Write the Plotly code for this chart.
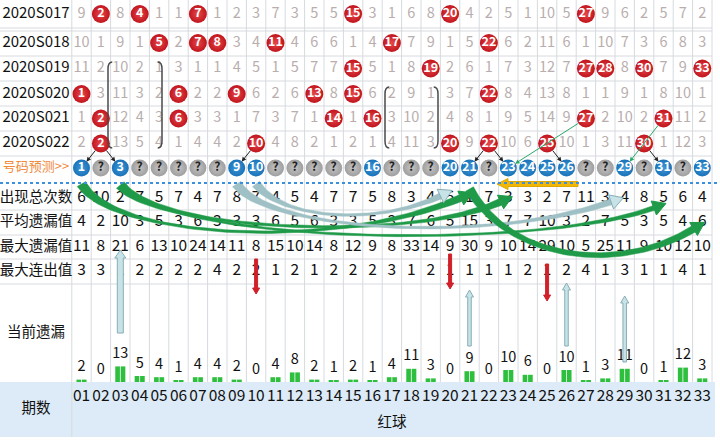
import numpy as np
import plotly.graph_objects as go

# ---------------- data ----------------
periods = ["2020S017", "2020S018", "2020S019", "2020S020", "2020S021", "2020S022"]

# omission values per period (0 where the ball was drawn)
omit_S017 = [9, 0, 8, 0, 1, 1, 0, 1, 2, 3, 7, 3, 5, 5, 0, 3, 1, 6, 8, 0, 4, 2, 5, 1, 10, 5, 0, 9, 6, 2, 5, 7, 2]
omit_S018 = [10, 1, 9, 1, 0, 2, 0, 0, 3, 4, 0, 4, 6, 6, 1, 4, 0, 7, 9, 1, 5, 0, 6, 2, 11, 6, 1, 10, 7, 3, 6, 8, 3]
omit_S019 = [11, 2, 10, 2, 1, 3, 1, 1, 4, 5, 1, 5, 7, 7, 0, 5, 1, 8, 0, 2, 6, 1, 7, 3, 12, 7, 0, 0, 8, 0, 7, 9, 0]
omit_S020 = [0, 3, 11, 3, 2, 0, 2, 2, 0, 6, 2, 6, 0, 8, 0, 6, 2, 9, 1, 3, 7, 0, 8, 4, 13, 8, 1, 1, 9, 1, 8, 10, 1]
omit_S021 = [1, 0, 12, 4, 3, 0, 3, 3, 1, 7, 3, 7, 1, 0, 1, 0, 3, 10, 2, 4, 8, 1, 9, 5, 14, 9, 0, 2, 10, 2, 0, 11, 2]
omit_S022 = [2, 0, 13, 5, 4, 1, 4, 4, 2, 0, 4, 8, 2, 1, 2, 1, 4, 11, 3, 0, 9, 0, 10, 6, 0, 10, 1, 3, 11, 0, 1, 12, 3]
omit_rows = [omit_S017, omit_S018, omit_S019, omit_S020, omit_S021, omit_S022]

hits_S017 = [2, 4, 7, 15, 20, 27]
hits_S018 = [5, 7, 8, 11, 17, 22]
hits_S019 = [15, 19, 27, 28, 30, 33]
hits_S020 = [1, 6, 9, 13, 15, 22]
hits_S021 = [2, 6, 14, 16, 27, 31]
hits_S022 = [2, 10, 20, 22, 25, 30]
hit_rows = [hits_S017, hits_S018, hits_S019, hits_S020, hits_S021, hits_S022]

pred_numbers = [1, 3, 9, 10, 16, 20, 21, 23, 24, 25, 26, 29, 31, 33]

stat_labels = ["出现总次数", "平均遗漏值", "最大遗漏值", "最大连出值"]
total_count = [6, 10, 2, 7, 5, 7, 4, 7, 8, 7, 4, 5, 4, 7, 7, 5, 8, 3, 4, 5, 1, 7, 3, 3, 2, 7, 11, 3, 4, 8, 5, 6, 4]
avg_omit = [4, 2, 10, 3, 5, 3, 6, 3, 3, 3, 6, 5, 6, 3, 3, 5, 3, 7, 6, 5, 15, 3, 7, 7, 10, 3, 2, 7, 5, 3, 5, 4, 6]
max_omit = [11, 8, 21, 6, 13, 10, 24, 14, 11, 8, 15, 10, 14, 8, 12, 9, 8, 33, 14, 9, 30, 9, 10, 14, 29, 10, 5, 25, 11, 9, 10, 12, 10]
max_streak = [3, 3, 1, 2, 2, 2, 2, 4, 2, 2, 1, 2, 1, 2, 2, 2, 3, 1, 2, 1, 1, 1, 1, 2, 1, 2, 4, 1, 3, 1, 1, 4, 1]
stat_rows = [total_count, avg_omit, max_omit, max_streak]

current_omit = [2, 0, 13, 5, 4, 1, 4, 4, 2, 0, 4, 8, 2, 1, 2, 1, 4, 11, 3, 0, 9, 0, 10, 6, 0, 10, 1, 3, 11, 0, 1, 12, 3]
ball_labels = ["01", "02", "03", "04", "05", "06", "07", "08", "09", "10", "11", "12", "13", "14", "15", "16", "17",
               "18", "19", "20", "21", "22", "23", "24", "25", "26", "27", "28", "29", "30", "31", "32", "33"]
pred_label = "号码预测>>"
cur_label = "当前遗漏"
period_label = "期数"
group_label = "红球"

# ---------------- geometry / style ----------------
FIG_W, FIG_H = 720, 446
COL_W = 19.4
COL1_PX = 81.5


def cx(px):
    return 1 + (px - COL1_PX) / COL_W


def pxc(c):
    return COL1_PX + (c - 1) * COL_W


LABEL_X = cx(36)
HIST_Y = [14, 43, 68.5, 94, 118.5, 143.5]
PRED_Y = 168
DOT_Y = 183
STAT_Y = [198, 222, 247, 271]
CUR_Y = 333
BAR_BASE = 382
BAR_SCALE = 1.2
NUM_Y = 397
GROUP_Y = 423
BLUE_BOT = 437
H_LINES = [28, 31, 56, 81, 106, 131, 156, 210, 235, 259, 284]

FONT = "Noto Sans CJK SC, Noto Sans, sans-serif"
GRID = "#d6dadf"
GRAY_TXT = "#b9aeae"
RED = "#c0141c"
BLUE = "#1a72b8"
GREEN = "#1f9a48"
GRAYBLUE = "#9fc0c4"
LBLUE = "#c8e3e8"
LBLUE_EDGE = "#86aeb4"

cols = list(range(1, 34))
fig = go.Figure()
shapes = []

# blue footer band
shapes.append(dict(type="rect", xref="x", yref="y", x0=cx(0), x1=cx(715), y0=BAR_BASE, y1=BLUE_BOT,
                   fillcolor="#dcebf7", line_width=0, layer="below"))
# vertical grid lines
for k in range(34):
    shapes.append(dict(type="line", xref="x", yref="y", x0=k + 0.5, x1=k + 0.5, y0=0,
                       y1=BLUE_BOT if k == 0 else BAR_BASE,
                       line=dict(color=GRID, width=1), layer="below"))
# horizontal grid lines
for yy in H_LINES:
    shapes.append(dict(type="line", xref="x", yref="y", x0=cx(0), x1=33.5, y0=yy, y1=yy,
                       line=dict(color=GRID, width=1), layer="below"))
# dotted blue separator
shapes.append(dict(type="line", xref="x", yref="y", x0=cx(0), x1=cx(720), y0=DOT_Y, y1=DOT_Y,
                   line=dict(color="#3b8fe0", width=2, dash="dot"), layer="above"))


# brackets
def bracket(c, y0, y1, side):
    d = 0.22 * side
    return dict(type="path", xref="x", yref="y",
                path=f"M {c + d},{y0} Q {c},{y0} {c},{y0 + 7} L {c},{y1 - 7} Q {c},{y1} {c + d},{y1}",
                line=dict(color="#4a4a4a", width=1.5), layer="above")


shapes.append(bracket(cx(108), 62, 148, 1))
shapes.append(bracket(cx(162), 62, 148, -1))
shapes.append(bracket(cx(385), 87, 148, 1))
shapes.append(bracket(cx(438), 87, 148, -1))

# ---------- left labels ----------
left_texts = periods + [pred_label] + stat_labels + [cur_label, period_label]
left_y = HIST_Y + [PRED_Y] + STAT_Y + [CUR_Y, 409]
left_colors = ["#111"] * 6 + ["#f08a3c"] + ["#111"] * 6
left_sizes = [15] * 6 + [13] + [14.5] * 6
fig.add_trace(go.Scatter(x=[LABEL_X] * len(left_texts), y=left_y, mode="text", text=left_texts,
                         textfont=dict(family=FONT, size=left_sizes, color=left_colors),
                         hoverinfo="skip", showlegend=False))

# ---------- history omission numbers ----------
for i, row in enumerate(omit_rows):
    xs = [c for c in cols if c not in hit_rows[i]]
    fig.add_trace(go.Scatter(x=xs, y=[HIST_Y[i]] * len(xs), mode="text",
                             text=[str(row[c - 1]) for c in xs],
                             textfont=dict(family=FONT, size=14.5, color=GRAY_TXT),
                             hoverinfo="skip", showlegend=False))

# ---------- stats ----------
for i, row in enumerate(stat_rows):
    fig.add_trace(go.Scatter(x=cols, y=[STAT_Y[i]] * 33, mode="text", text=[str(v) for v in row],
                             textfont=dict(family=FONT, size=15.5, color="#111"),
                             hoverinfo="skip", showlegend=False))

# ---------- current omission bars ----------
bar_h = [-BAR_SCALE * v for v in current_omit]
for off in (-0.14, 0.14):
    fig.add_trace(go.Bar(x=[c + off for c in cols], y=bar_h, base=BAR_BASE, width=0.24,
                         marker=dict(color="#2fbf3f", line_width=0), hoverinfo="skip", showlegend=False))
fig.add_trace(go.Scatter(x=cols, y=[BAR_BASE - BAR_SCALE * v - 12 for v in current_omit], mode="text",
                         text=[str(v) for v in current_omit],
                         textfont=dict(family=FONT, size=14.5, color="#111"),
                         hoverinfo="skip", showlegend=False))

# ---------- footer ----------
fig.add_trace(go.Scatter(x=cols, y=[NUM_Y] * 33, mode="text", text=ball_labels,
                         textfont=dict(family=FONT, size=15.5, color="#111"),
                         hoverinfo="skip", showlegend=False))
fig.add_trace(go.Scatter(x=[17], y=[GROUP_Y], mode="text", text=[group_label],
                         textfont=dict(family=FONT, size=14.5, color="#111"),
                         hoverinfo="skip", showlegend=False))


# ---------- decorative curved arrows ----------
def to_cols(pts):
    return [cx(p[0]) for p in pts], [p[1] for p in pts]


def tapered_curve(p0, p1, p2, p3, w0, wm, we, hw, hl):
    P = [np.array([pxc(c), y], dtype=float) for c, y in (p0, p1, p2, p3)]
    ts = np.linspace(0, 1, 70)
    left, right = [], []
    for t in ts:
        pt = (1 - t) ** 3 * P[0] + 3 * (1 - t) ** 2 * t * P[1] + 3 * (1 - t) * t ** 2 * P[2] + t ** 3 * P[3]
        d = 3 * (1 - t) ** 2 * (P[1] - P[0]) + 6 * (1 - t) * t * (P[2] - P[1]) + 3 * t ** 2 * (P[3] - P[2])
        d = d / (np.linalg.norm(d) + 1e-9)
        n = np.array([-d[1], d[0]])
        if t < 0.35:
            w = wm + (w0 - wm) * (1 - t / 0.35) ** 1.5
        elif t > 0.72:
            w = wm + (we - wm) * ((t - 0.72) / 0.28) ** 1.5
        else:
            w = wm
        left.append(pt + n * w / 2)
        right.append(pt - n * w / 2)
    body = left + right[::-1] + [left[0]]
    u = P[3] - P[2]
    u = u / np.linalg.norm(u)
    n = np.array([-u[1], u[0]])
    head = [P[3] + n * hw / 2, P[3] + u * hl, P[3] - n * hw / 2, P[3] + n * hw / 2]
    return to_cols(body), to_cols(head)


curves = [
    # start, ctrl1, ctrl2, end, widths (start, mid, end), body colour, head fill, head edge
    ((1.0, 184), (2.6, 238), (14.0, 252), (20.55, 198), (10, 2.5, 7), GREEN, GREEN, GREEN),
    ((3.0, 185), (5.0, 232), (18.0, 242), (22.6, 202), (10, 2.5, 7), GREEN, GREEN, GREEN),
    ((3.0, 186), (6.5, 248), (25.0, 248), (30.5, 208), (4, 2, 5), GREEN, GREEN, GREEN),
    ((9.0, 184), (10.6, 232), (22.0, 244), (28.3, 202), (10, 2.5, 6), GRAYBLUE, LBLUE, LBLUE_EDGE),
    ((10.0, 184), (11.5, 222), (16.5, 224), (19.5, 196), (9, 2.5, 6), GRAYBLUE, LBLUE, LBLUE_EDGE),
    ((21.0, 189), (23.0, 258), (28.5, 276), (32.55, 229), (9, 5, 7), GREEN, GREEN, GREEN),
]
for p0, p1, p2, p3, (w0, wm, we), col, hfill, hedge in curves:
    (bx, by), (hx, hy) = tapered_curve(p0, p1, p2, p3, w0, wm, we, 15, 13)
    fig.add_trace(go.Scatter(x=bx, y=by, mode="lines", fill="toself", fillcolor=col,
                             line=dict(color=col, width=0.5), hoverinfo="skip", showlegend=False))
    fig.add_trace(go.Scatter(x=hx, y=hy, mode="lines", fill="toself", fillcolor=hfill,
                             line=dict(color=hedge, width=1), hoverinfo="skip", showlegend=False))


# ---------- straight block arrows ----------
def block_arrow(c0, y0, c1, y1, w, hw, hl):
    p0 = np.array([pxc(c0), y0], dtype=float)
    p1 = np.array([pxc(c1), y1], dtype=float)
    u = (p1 - p0) / np.linalg.norm(p1 - p0)
    n = np.array([-u[1], u[0]])
    b = p1 - u * hl
    pts = [p0 + n * w / 2, b + n * w / 2, b + n * hw / 2, p1, b - n * hw / 2, b - n * w / 2, p0 - n * w / 2,
           p0 + n * w / 2]
    return to_cols(pts)


block_arrows = [
    # tail col, tail y, tip col, tip y, width, head width, head len, fill, edge
    (cx(578), DOT_Y + 1, cx(497), DOT_Y + 1, 5, 11, 11, "#f2b705", "#e0a800"),
    (3, 333, 3, 250, 6, 11, 8, LBLUE, LBLUE_EDGE),
    (21, 346, 21, 290, 3.5, 8, 7, LBLUE, LBLUE_EDGE),
    (26, 346, 26, 283, 3.5, 8, 7, LBLUE, LBLUE_EDGE),
    (29, 362, 29, 296, 3.5, 8, 7, LBLUE, LBLUE_EDGE),
    (10, 259, 10, 294, 3, 7, 6, "#d0202a", "#d0202a"),
    (20, 254, 20, 289, 3, 7, 6, "#d0202a", "#d0202a"),
    (25, 264, 25, 301, 3, 7, 6, "#d0202a", "#d0202a"),
]
for c0, y0, c1, y1, w, hw, hl, fcol, ecol in block_arrows:
    ax_, ay_ = block_arrow(c0, y0, c1, y1, w, hw, hl)
    fig.add_trace(go.Scatter(x=ax_, y=ay_, mode="lines", fill="toself", fillcolor=fcol,
                             line=dict(color=ecol, width=1), hoverinfo="skip", showlegend=False))

# ---------- balls ----------
for i, hits in enumerate(hit_rows):
    fig.add_trace(go.Scatter(x=hits, y=[HIST_Y[i]] * len(hits), mode="markers+text",
                             text=[str(h) for h in hits], textposition="middle center",
                             marker=dict(size=18, color=RED, gradient=dict(type="radial", color="#e6474c"),
                                         line=dict(width=0)),
                             textfont=dict(family=FONT, size=12.5, color="white", weight="bold"),
                             hoverinfo="skip", showlegend=False))

pred_x = [c for c in cols if c in pred_numbers]
unk_x = [c for c in cols if c not in pred_numbers]
fig.add_trace(go.Scatter(x=unk_x, y=[PRED_Y] * len(unk_x), mode="markers+text", text=["?"] * len(unk_x),
                         textposition="middle center",
                         marker=dict(size=17, color="#9e9e9e", gradient=dict(type="radial", color="#c4c4c4"),
                                     line=dict(width=0)),
                         textfont=dict(family=FONT, size=12, color="#222", weight="bold"),
                         hoverinfo="skip", showlegend=False))
fig.add_trace(go.Scatter(x=pred_x, y=[PRED_Y] * len(pred_x), mode="markers+text",
                         text=[str(c) for c in pred_x], textposition="middle center",
                         marker=dict(size=17, color=BLUE, gradient=dict(type="radial", color="#3d97d8"),
                                     line=dict(width=0)),
                         textfont=dict(family=FONT, size=12.5, color="white", weight="bold"),
                         hoverinfo="skip", showlegend=False))

# ---------- thin pointer arrows ----------
pointer_links = [
    (2, 5, 1, "#222"), (2, 5, 3, "#222"), (10, 5, 9, "#222"), (22, 5, 21, "#222"), (22, 5, 23, "#222"),
    (25, 5, 26, "#222"), (30, 5, 31, "#222"), (27, 4, 23, "#2aa86a"), (31, 4, 29, "#2aa86a"),
]
annotations = []
for c_from, row_i, c_to, colr in pointer_links:
    annotations.append(dict(x=c_to, y=PRED_Y, ax=c_from, ay=HIST_Y[row_i], xref="x", yref="y",
                            axref="x", ayref="y", text="", showarrow=True, arrowhead=2, arrowsize=0.9,
                            arrowwidth=1, arrowcolor=colr, standoff=8, startstandoff=7))

fig.update_layout(
    width=FIG_W, height=FIG_H, margin=dict(l=0, r=0, t=0, b=0),
    paper_bgcolor="white", plot_bgcolor="white",
    xaxis=dict(range=[cx(0), cx(FIG_W)], visible=False, fixedrange=True),
    yaxis=dict(range=[FIG_H, 0], visible=False, fixedrange=True),
    barmode="overlay", showlegend=False, shapes=shapes, annotations=annotations,
    font=dict(family=FONT),
)

fig.write_html("out.html", config={"displayModeBar": False},
               post_script="document.body.style.margin='0';")
